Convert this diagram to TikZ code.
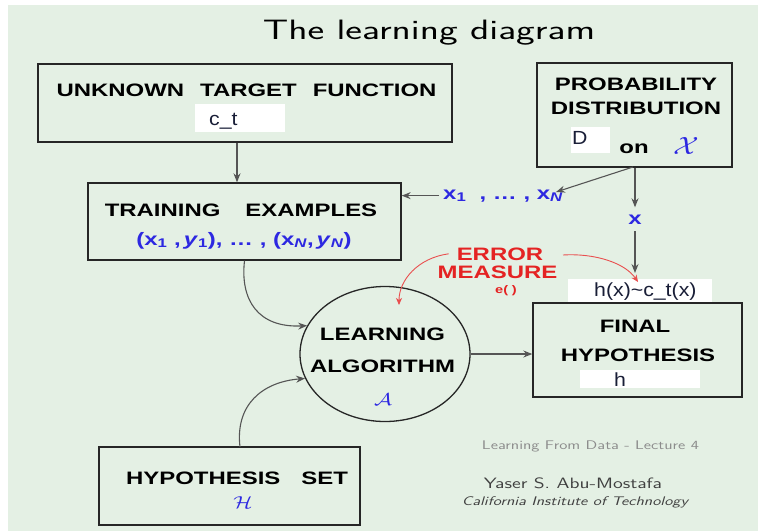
\documentclass[tikz,border=0pt]{standalone}
\usepackage{fontspec}
\usepackage{graphicx}
\usetikzlibrary{shapes.geometric,arrows.meta}
\newfontfamily\lbl{Liberation Sans}[FakeStretch=1.33]
\newfontfamily\edt{Liberation Sans}[FakeStretch=1.12]
\definecolor{bgc}{RGB}{228,240,228}
\definecolor{mblue}{RGB}{45,40,225}
\definecolor{mred}{RGB}{228,35,35}
\definecolor{lgray}{RGB}{85,85,85}
\definecolor{edtc}{RGB}{25,30,55}
\begin{document}
\begin{tikzpicture}[x=1pt,y=-1pt,
  box/.style={draw=black!85, line width=1.4pt, inner sep=0pt},
  lab/.style={font=\lbl\bfseries\fontsize{18}{21}\selectfont, inner sep=0pt, anchor=base, align=center},
  bluelab/.style={font=\lbl\bfseries\fontsize{18}{21}\selectfont, text=mblue, inner sep=0pt, anchor=base},
  redlab/.style={font=\lbl\bfseries\fontsize{18}{21}\selectfont, text=mred, inner sep=0pt, anchor=base},
  patch/.style={fill=white, draw=none, inner sep=0pt},
  edtxt/.style={font=\edt\fontsize{19}{21}\selectfont, text=edtc, inner sep=0pt, anchor=base west},
  arr/.style={draw=lgray, line width=1.1pt, -{Stealth[length=9pt,width=7pt,inset=3pt]}},
  redarr/.style={draw=mred!80, line width=0.9pt, -{Stealth[length=7pt,width=6pt,inset=2pt]}},
  foot/.style={inner sep=0pt, anchor=center}
]
\useasboundingbox (0,0) rectangle (758,531);
\fill[white] (0,0) rectangle (758,531);
\fill[bgc] (8,5) rectangle (758,531);

% title
\node[foot] (title) at (429,33) {\scalebox{1.42}[1]{\sffamily\fontsize{28}{30}\selectfont The learning diagram}};

% boxes
\node[box, minimum width=414pt, minimum height=78pt] (target) at (245,103) {};
\node[box, minimum width=195pt, minimum height=104pt] (prob) at (634.5,115) {};
\node[box, minimum width=313pt, minimum height=77pt] (train) at (244.5,221.5) {};
\node[box, minimum width=209pt, minimum height=94pt] (final) at (637.5,350) {};
\node[box, minimum width=261pt, minimum height=78pt] (hset) at (229.5,486) {};
\node[ellipse, draw=black!85, line width=1.3pt, minimum width=170pt, minimum height=135pt, inner sep=0pt] (alg) at (385,354) {};

% target box texts
\node[lab] (tgtxt) at (246.5,96) {UNKNOWN\hspace{16pt}TARGET\hspace{16pt}FUNCTION};
\node[patch, minimum width=90pt, minimum height=28pt] (ctp) at (240,118) {};
\node[edtxt] (ct) at (209,125) {c\_t};

% probability box texts
\node[lab] (pr1) at (636,90) {PROBABILITY};
\node[lab] (pr2) at (636,114) {DISTRIBUTION};
\node[patch, minimum width=39pt, minimum height=26pt] (dp) at (590.5,140) {};
\node[edtxt] (dd) at (572,144) {D};
\node[lab] (on) at (634,153) {on};
\node[inner sep=0pt, anchor=base, text=mblue] (calx) at (686,154) {\scalebox{1.2}[1]{\fontsize{31}{33}\selectfont$\mathcal{X}$}};

% training box texts
\node[lab] (trtxt) at (241,216) {TRAINING\hspace{25pt}EXAMPLES};
\node[bluelab] (trf) at (244,245) {(x\textsubscript{1} ,\,\textit{y}\textsubscript{1}), \dots\ , (x\textsubscript{\itshape N},\,\textit{y}\textsubscript{\itshape N})};

% sample labels
\node[bluelab, inner xsep=4pt] (xs) at (503,199) {x\textsubscript{1}\ \ , \dots\ , x\textsubscript{\itshape N}};
\node[bluelab, inner sep=7pt] (xlab) at (635,224) {x};

% error measure
\node[redlab, inner xsep=8pt] (err) at (500,260) {ERROR};
\node[redlab] (meas) at (497.5,278) {MEASURE};
\node[inner sep=0pt, anchor=base, text=mred, font=\lbl\bfseries\fontsize{11}{12}\selectfont] (ee) at (506,293) {e(\,\,)};

% h(x) patch
\node[patch, minimum width=144pt, minimum height=23pt] (hxp) at (640,290.5) {};
\node[edtxt] (hx) at (594,296) {h(x)\textasciitilde c\_t(x)};

% final hypothesis
\node[lab] (fi1) at (635,332) {FINAL};
\node[lab] (fi2) at (638,361) {HYPOTHESIS};
\node[patch, minimum width=120pt, minimum height=18pt] (hp) at (640,379) {};
\node[edtxt] (hh) at (614,386) {h};

% learning algorithm
\node[lab] (al1) at (382.5,340) {LEARNING};
\node[lab] (al2) at (382.5,372) {ALGORITHM};
\node[inner sep=0pt, text=mblue] (cala) at (383,400) {\scalebox{1.3}[1]{\fontsize{18}{20}\selectfont$\mathcal{A}$}};

% hypothesis set
\node[lab] (hstxt) at (237,484) {HYPOTHESIS\hspace{21pt}SET};
\node[inner sep=0pt, text=mblue] (calh) at (243,503) {\scalebox{1.3}[1]{\fontsize{18}{20}\selectfont$\mathcal{H}$}};

% footer
\node[foot, text=black!45] (lfd) at (590.5,446) {\scalebox{1.33}[1]{\sffamily\fontsize{12.5}{14}\selectfont Learning From Data - Lecture 4}};
\node[foot, text=black!75] (yas) at (573,483) {\scalebox{1.33}[1]{\sffamily\fontsize{15}{17}\selectfont Yaser S. Abu-Mostafa}};
\node[foot, text=black!75] (cit) at (575,502) {\scalebox{1.33}[1]{\sffamily\itshape\fontsize{12.5}{14}\selectfont California Institute of Technology}};

% coordinates
\coordinate (ax) at (237,0);
\coordinate (pA) at (633,167);
\coordinate (pB) at (556,192);
\coordinate (hxtop) at (635,273);
\coordinate (hsA) at (240,447);
\coordinate (erra) at (399,305);
\coordinate (errb) at (638,282);
\coordinate (errs) at (563,255);

% connectors
\draw[arr] (target.south -| ax) -- (train.north -| ax);
\draw[arr] (pA) -- (pB);
\draw[arr] (xs.west) -- (xs.west -| train.east);
\draw[arr] (prob.south -| xlab) -- (xlab.north);
\draw[arr] (xlab.south) -- (hxtop);
\draw[arr] (alg.east) -- (alg.east -| final.west);
\draw[arr] (train.south) .. controls (240,300) and (258,328) .. (alg.160);
\draw[arr] (hsA) .. controls (235,405) and (262,382) .. (alg.197);
\draw[redarr] (err.west) .. controls (418,258) and (399,280) .. (erra);
\draw[redarr] (errs) .. controls (595,253) and (625,263) .. (errb);
\end{tikzpicture}
\end{document}
